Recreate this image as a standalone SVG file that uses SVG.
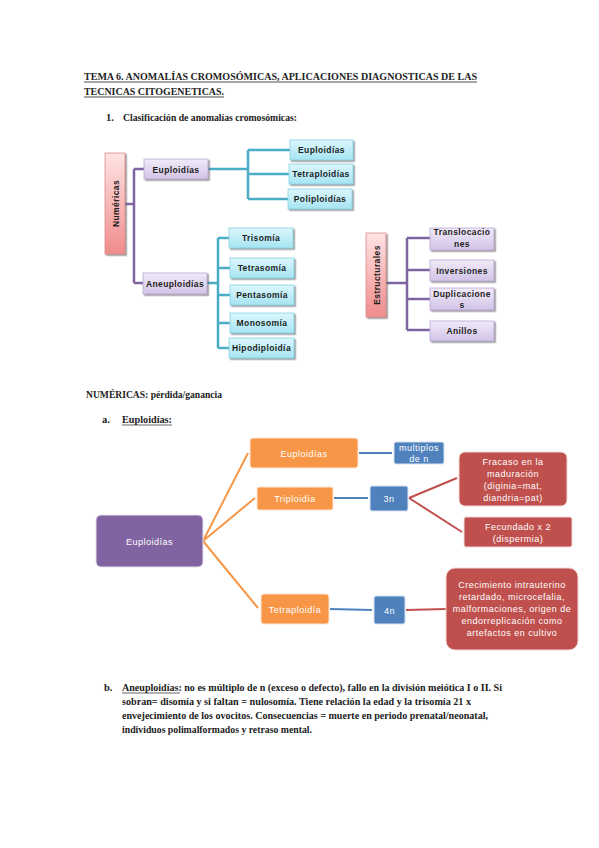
<svg xmlns="http://www.w3.org/2000/svg" width="599" height="848" viewBox="0 0 599 848">
<defs>
<linearGradient id="gLav" x1="0" y1="0" x2="0" y2="1"><stop offset="0" stop-color="#f1ebf8"/><stop offset="1" stop-color="#d2c3e6"/></linearGradient>
<linearGradient id="gCyan" x1="0" y1="0" x2="0" y2="1"><stop offset="0" stop-color="#dcf7fc"/><stop offset="1" stop-color="#a6e4f2"/></linearGradient>
<linearGradient id="gPink" x1="0" y1="0" x2="0" y2="1"><stop offset="0" stop-color="#ffe3e3"/><stop offset="1" stop-color="#f08c8c"/></linearGradient>
<filter id="sh" x="-20%" y="-20%" width="150%" height="150%"><feDropShadow dx="1.5" dy="1.5" stdDeviation="0.7" flood-color="#555" flood-opacity="0.6"/></filter>
<style>
.body{font-family:"Liberation Serif","Times New Roman",serif;font-weight:bold;font-size:10.5px;fill:#222}
.lav{fill:url(#gLav);stroke:#b8a6d2;stroke-width:0.8;filter:url(#sh)}
.cy{fill:url(#gCyan);stroke:#86d2e3;stroke-width:0.8;filter:url(#sh)}
.pk{fill:url(#gPink);stroke:#d98a8a;stroke-width:0.8;filter:url(#sh)}
.lb{font-family:"Liberation Sans",Arial,sans-serif;font-weight:bold;font-size:8.5px;letter-spacing:0.4px;fill:#1e1e1e;text-anchor:middle}
.wl{font-family:"Liberation Sans",Arial,sans-serif;font-size:9px;letter-spacing:0.5px;fill:#fff;text-anchor:middle}
.cp{fill:none;stroke:#8064a2;stroke-width:2.5}
.cc{fill:none;stroke:#4bacc6;stroke-width:2.5}
.lo{fill:none;stroke:#f79646;stroke-width:2}
.lbl{fill:none;stroke:#4f81bd;stroke-width:2}
.lr{fill:none;stroke:#c0504d;stroke-width:2}
.nP{fill:#8064a2;stroke:#e8e0f0;stroke-width:1}
.nO{fill:#f79646;stroke:#fde3cf;stroke-width:1}
.nB{fill:#4f81bd;stroke:#d6e2f0;stroke-width:1}
.nR{fill:#c0504d;stroke:#f0d6d5;stroke-width:1}
</style>
</defs>
<rect width="599" height="848" fill="#fff"/>

<!-- header texts -->
<g id="texts">
<text class="body" x="84" y="80" textLength="393" lengthAdjust="spacingAndGlyphs">TEMA 6. ANOMALÍAS CROMOSÓMICAS, APLICACIONES DIAGNOSTICAS DE LAS</text>
<line x1="84" y1="82" x2="477" y2="82" stroke="#222" stroke-width="0.8"/>
<text class="body" x="84" y="95" textLength="140" lengthAdjust="spacingAndGlyphs">TECNICAS CITOGENETICAS.</text>
<line x1="84" y1="97" x2="224" y2="97" stroke="#222" stroke-width="0.8"/>
<text class="body" x="106" y="121" font-size="10">1.</text>
<text class="body" x="123" y="121" font-size="10" textLength="174" lengthAdjust="spacingAndGlyphs">Clasificación de anomalías cromosómicas:</text>
<text class="body" x="86" y="398" font-size="10" textLength="136" lengthAdjust="spacingAndGlyphs">NUMÉRICAS: pérdida/ganancia</text>
<text class="body" x="102" y="423" font-size="10">a.</text>
<text class="body" x="122" y="423" font-size="10" textLength="50" lengthAdjust="spacingAndGlyphs">Euploidías:</text>
<line x1="122" y1="425" x2="172" y2="425" stroke="#222" stroke-width="0.7"/>
<text class="body" x="104" y="691" font-size="10">b.</text>
<text class="body" x="122" y="691" font-size="10" textLength="380" lengthAdjust="spacingAndGlyphs">Aneuploidías: no es múltiplo de n (exceso o defecto), fallo en la división meiótica I o II.  Si</text>
<line x1="122" y1="693" x2="180" y2="693" stroke="#222" stroke-width="0.7"/>
<text class="body" x="122" y="705" font-size="10" textLength="349" lengthAdjust="spacingAndGlyphs">sobran= disomía y si faltan = nulosomía.  Tiene relación la edad y la trisomía 21 x</text>
<text class="body" x="122" y="719" font-size="10" textLength="366" lengthAdjust="spacingAndGlyphs">envejecimiento de los ovocitos. Consecuencias = muerte en periodo prenatal/neonatal,</text>
<text class="body" x="122" y="733" font-size="10" textLength="190" lengthAdjust="spacingAndGlyphs">individuos polimalformados y retraso mental.</text>
</g>

<!-- connectors -->
<g id="connectors">
<path class="cp" d="M125 204 H134 M134 169 V283 M134 169 H144 M134 283 H143"/>
<path class="cc" d="M208 169 H248 M248 150 V199 M248 150 H290 M248 174 H289 M248 199 H288"/>
<path class="cc" d="M207 283 H218 M218 238 V348 M218 238 H229 M218 268 H230 M218 295 H230 M218 323 H230 M218 348 H229"/>
<path class="cp" d="M386 283 H407 M407 238 V330 M407 238 H430 M407 270 H430 M407 299 H430 M407 330 H430"/>
<path class="lo" d="M203 541 L248 453 M203 541 L255 498 M203 541 L258 608"/>
<path class="lbl" d="M359 453 H392 M334 498 H368 M330 609 L372 610"/>
<path class="lr" d="M409 498 L457 478 M409 498 L462 532 M406 610 L446 609"/>
</g>

<!-- diagram 1 -->
<g id="n-numericas"><rect class="pk" x="105" y="153" width="20" height="101"/><text class="lb" transform="translate(118.5 203.5) rotate(-90)">Numéricas</text></g>
<g id="n-euploidias"><rect class="lav" x="144" y="159" width="64" height="20"/><text class="lb" x="176" y="172.5">Euploidías</text></g>
<g id="n-aneuploidias"><rect class="lav" x="143" y="273" width="64" height="21"/><text class="lb" x="175" y="286.5">Aneuploidías</text></g>
<g id="n-eup2"><rect class="cy" x="290" y="140" width="63" height="20"/><text class="lb" x="321.5" y="153">Euploidías</text></g>
<g id="n-tetraploidias"><rect class="cy" x="289" y="164" width="64" height="20"/><text class="lb" x="321" y="177">Tetraploidías</text></g>
<g id="n-poliploidias"><rect class="cy" x="288" y="189" width="64" height="20"/><text class="lb" x="320" y="202">Poliploidías</text></g>
<g id="n-trisomia"><rect class="cy" x="229" y="228" width="64" height="20"/><text class="lb" x="261" y="241">Trisomía</text></g>
<g id="n-tetrasomia"><rect class="cy" x="230" y="258" width="64" height="20"/><text class="lb" x="262" y="271">Tetrasomía</text></g>
<g id="n-pentasomia"><rect class="cy" x="230" y="285" width="64" height="20"/><text class="lb" x="262" y="298">Pentasomía</text></g>
<g id="n-monosomia"><rect class="cy" x="230" y="313" width="64" height="20"/><text class="lb" x="262" y="326">Monosomía</text></g>
<g id="n-hipodiploidia"><rect class="cy" x="229" y="338" width="65" height="20"/><text class="lb" x="261.5" y="351">Hipodiploidía</text></g>
<g id="n-estructurales"><rect class="pk" x="366" y="233" width="20" height="84"/><text class="lb" transform="translate(379.5 275) rotate(-90)">Estructurales</text></g>
<g id="n-translocaciones"><rect class="lav" x="430" y="228" width="64" height="22"/><text class="lb" x="462" y="235">Translocacio</text><text class="lb" x="462" y="247">nes</text></g>
<g id="n-inversiones"><rect class="lav" x="430" y="260" width="64" height="21"/><text class="lb" x="462" y="273.5">Inversiones</text></g>
<g id="n-duplicaciones"><rect class="lav" x="430" y="288" width="64" height="22"/><text class="lb" x="462" y="297">Duplicacione</text><text class="lb" x="462" y="308">s</text></g>
<g id="n-anillos"><rect class="lav" x="430" y="321" width="64" height="20"/><text class="lb" x="462" y="334">Anillos</text></g>

<!-- diagram 2 -->
<g id="m-euploidias"><rect class="nP" x="96" y="515" width="107" height="52" rx="5"/><text class="wl" x="149.5" y="544.5">Euploidías</text></g>
<g id="m-eup-orange"><rect class="nO" x="250" y="438" width="108" height="30" rx="3"/><text class="wl" x="304" y="456.5">Euploidías</text></g>
<g id="m-triploidia"><rect class="nO" x="257" y="487" width="76" height="23" rx="2"/><text class="wl" x="295" y="501.5">Triploidía</text></g>
<g id="m-tetraploidia"><rect class="nO" x="261" y="594" width="68" height="30" rx="3"/><text class="wl" x="295" y="612.5">Tetraploidía</text></g>
<g id="m-multiplos"><rect class="nB" x="394" y="442" width="50" height="22" rx="2"/><text class="wl" x="419" y="451">multiplos</text><text class="wl" x="419" y="462">de n</text></g>
<g id="m-3n"><rect class="nB" x="370" y="486" width="38" height="25" rx="2"/><text class="wl" x="389" y="501.5">3n</text></g>
<g id="m-4n"><rect class="nB" x="374" y="596" width="31" height="28" rx="2"/><text class="wl" x="389.5" y="613.5">4n</text></g>
<g id="m-fracaso"><rect class="nR" x="459" y="452" width="108" height="54" rx="6"/><text class="wl" x="513" y="465">Fracaso en la</text><text class="wl" x="513" y="477">maduración</text><text class="wl" x="513" y="489">(diginia=mat,</text><text class="wl" x="513" y="501">diandria=pat)</text></g>
<g id="m-fecundado"><rect class="nR" x="464" y="517" width="108" height="30" rx="2"/><text class="wl" x="518" y="530">Fecundado x 2</text><text class="wl" x="518" y="542">(dispermia)</text></g>
<g id="m-crecimiento"><rect class="nR" x="446" y="568" width="132" height="82" rx="9"/><text class="wl" x="512" y="588">Crecimiento intrauterino</text><text class="wl" x="512" y="600">retardado, microcefalia,</text><text class="wl" x="512" y="612">malformaciones, origen de</text><text class="wl" x="512" y="624">endorreplicación como</text><text class="wl" x="512" y="636">artefactos en cultivo</text></g>
</svg>
